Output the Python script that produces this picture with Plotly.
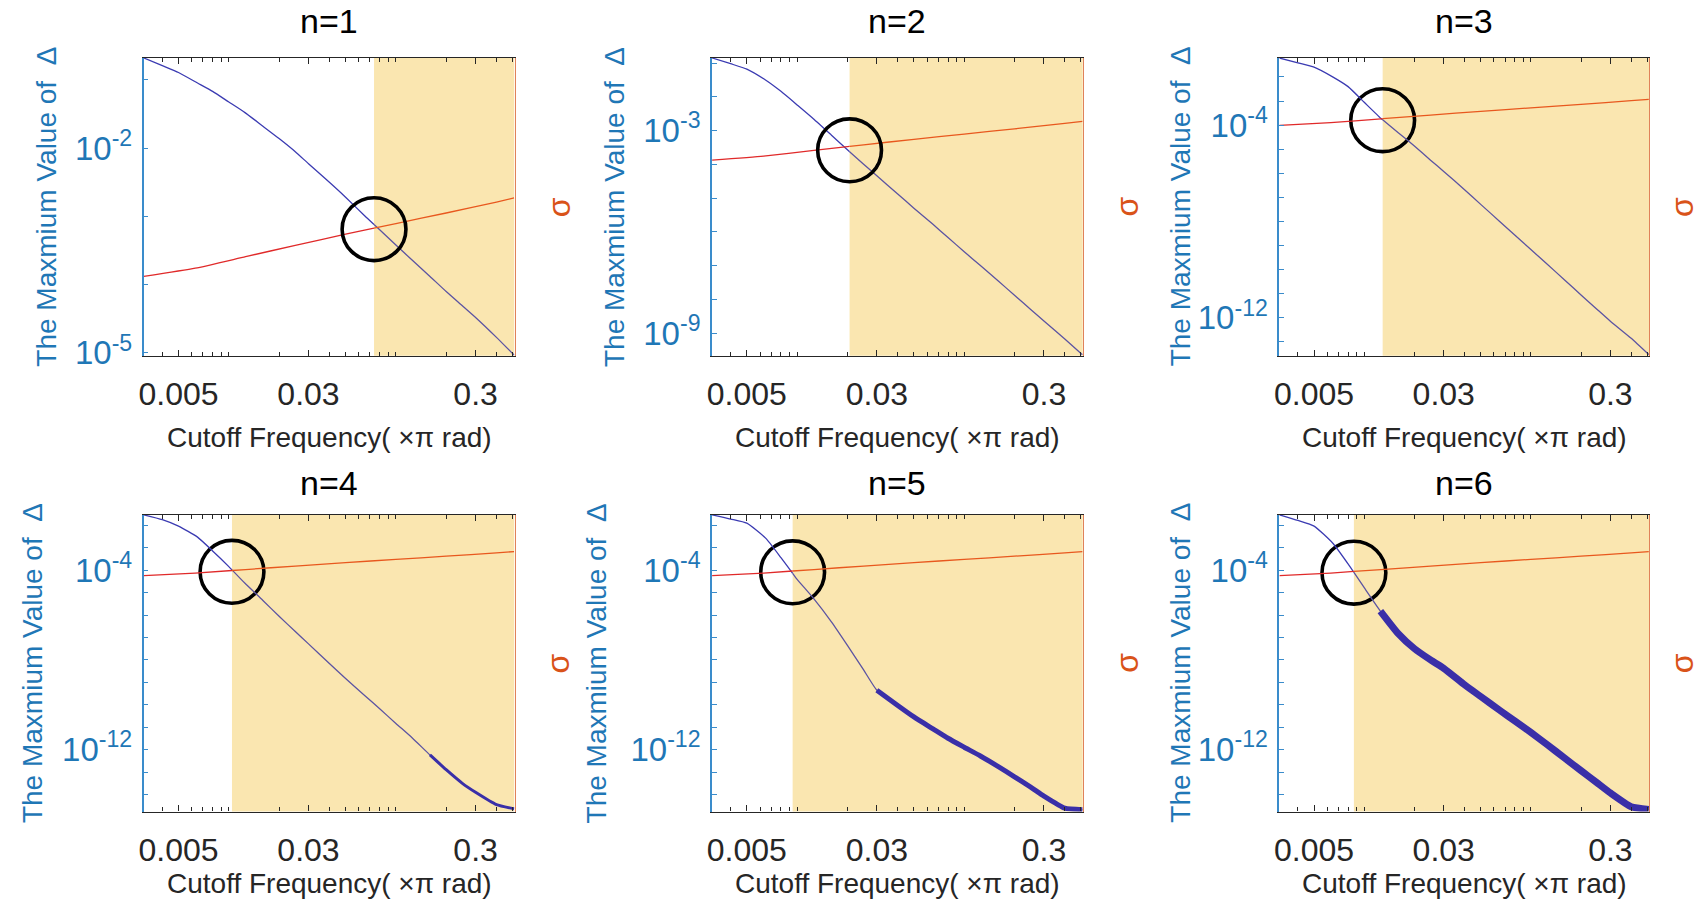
import math
import plotly.graph_objects as go

# ---------------------------------------------------------------------------
# Data: maximum of Delta versus cutoff frequency (x pi rad) for orders n=1..6,
# and the sigma reference curve (right-hand axis) drawn in every panel.
# ---------------------------------------------------------------------------
FREQ = [0.0031, 0.004, 0.005, 0.0065, 0.008, 0.01, 0.0125, 0.016, 0.02, 0.025,
        0.03, 0.04, 0.05, 0.065, 0.08, 0.1, 0.125, 0.16, 0.2, 0.25, 0.3, 0.4, 0.51]

DELTA_N1 = [2.09e-1, 1.61e-1, 1.28e-1, 8.97e-2, 6.76e-2, 4.73e-2, 3.31e-2, 2.09e-2,
            1.38e-2, 8.85e-3, 5.89e-3, 3.16e-3, 1.91e-3, 1.02e-3, 6.35e-4, 3.80e-4,
            2.29e-4, 1.32e-4, 7.94e-5, 4.91e-5, 3.31e-5, 1.69e-5, 9.3e-6]
DELTA_N2 = [1.41e-1, 9.55e-2, 6.61e-2, 3.09e-2, 1.45e-2, 5.75e-3, 2.24e-3, 7.41e-4,
            2.69e-4, 1.00e-4, 4.57e-5, 1.32e-5, 5.01e-6, 1.66e-6, 6.76e-7, 2.57e-7,
            1.00e-7, 3.47e-8, 1.32e-8, 5.01e-9, 2.29e-9, 6.61e-10, 2.29e-10]
DELTA_N3 = [6.12e-2, 3.88e-2, 2.57e-2, 9.91e-3, 3.98e-3, 8.91e-4, 2.00e-4, 4.88e-5,
            1.36e-5, 3.53e-6, 1.19e-6, 2.10e-7, 5.14e-8, 1.01e-8, 2.75e-9, 6.85e-10,
            1.71e-10, 3.67e-11, 8.95e-12, 2.23e-12, 7.24e-13, 1.42e-13, 2.99e-14]
DELTA_N4 = [2.95e-2, 1.80e-2, 9.27e-3, 2.98e-3, 7.23e-4, 1.45e-4, 2.60e-5, 4.49e-6,
            8.82e-7, 1.84e-7, 5.19e-8, 6.94e-9, 1.48e-9, 2.61e-10, 6.62e-11, 1.47e-11,
            3.38e-12, 5.79e-13, 1.27e-13, 3.14e-14, 1.25e-14, 3.53e-15, 2.30e-15]
DELTA_N5 = [2.95e-2, 1.92e-2, 1.25e-2, 2.62e-3, 3.63e-4, 3.92e-5, 5.70e-6, 5.16e-7,
            4.49e-8, 3.57e-9, 4.46e-10, 9.33e-11, 2.87e-11, 8.44e-12, 3.22e-12, 1.28e-12,
            5.22e-13, 1.74e-13, 6.11e-14, 2.14e-14, 8.50e-15, 2.45e-15, 2.11e-15]
DELTA_N6 = [2.95e-2, 1.66e-2, 9.27e-3, 1.56e-3, 1.91e-4, 1.66e-5, 1.51e-6, 1.49e-7,
            3.18e-8, 9.97e-9, 4.23e-9, 7.80e-10, 2.34e-10, 5.70e-11, 1.91e-11, 5.89e-12,
            1.69e-12, 4.11e-13, 1.16e-13, 3.28e-14, 1.17e-14, 2.85e-15, 2.16e-15]

SIGMA_FREQ = [0.0031, 0.0063, 0.0126, 0.025, 0.05, 0.1, 0.2, 0.4, 0.51]
SIGMA = [1.32e-4, 1.74e-4, 2.57e-4, 3.76e-4, 5.50e-4, 7.85e-4, 1.12e-3, 1.62e-3, 1.86e-3]

ORDERS = [1, 2, 3, 4, 5, 6]
DELTAS = [DELTA_N1, DELTA_N2, DELTA_N3, DELTA_N4, DELTA_N5, DELTA_N6]

# crossing of Delta and sigma: start of the shaded band and centre of the marker ring
CROSS_FREQ = [0.074, 0.0206, 0.0129, 0.01045, 0.0094, 0.00867]
CROSS_SIGMA = [6.5e-4, 2.6e-4, 2.24e-4, 2.0e-4, 1.9e-4, 1.82e-4]
# frequency from which the curve is dominated by numerical noise
NOISE_FROM = [None, None, None, 0.16, 0.03, 0.0125]

X_TICKS = [0.005, 0.03, 0.3]
X_TICK_TEXT = ["0.005", "0.03", "0.3"]
Y_LABEL_EXP = [(-2, -5), (-3, -9), (-4, -12), (-4, -12), (-4, -12), (-4, -12)]

# ---------------------------------------------------------------------------
# Layout constants (pixels / log10 ranges)
# ---------------------------------------------------------------------------
W, H = 1706, 913
COLS = [(139, 511), (709, 1081), (1278, 1649)]
ROWS = [(59, 362), (524, 826)]
TITLE_Y = [21, 492]
XTITLE_Y = [445, 899]
YTITLE_OFFSET = [97, 97, 99, 112, 116, 99]
X_LOG_RANGE = [-2.51, -0.29]
Y_LOG_RANGE = [(-5.04, -0.68), (-9.67, -0.85), (-13.57, -1.21),
               (-14.76, -1.53), (-14.76, -1.53), (-14.76, -1.53)]
Y2_LOG_RANGE = [(-5.04, -0.68), (-9.67, -0.85), (-14.02, -0.908),
                (-15.18, -0.97), (-15.18, -0.97), (-15.18, -0.97)]
RING_W, RING_H = 64, 64
NOISE_WIDTH = {4: 3.0, 5: 5.0, 6: 7.0}

FONT = "Liberation Sans, Arial, Helvetica, sans-serif"
BLUE_AX = "#3A8CCB"
BLUE_TXT = "#1F77B6"
ORANGE_AX = "#E0825A"
ORANGE_TXT = "#D95319"
DARK = "#262626"
LINE_BLUE = "#3B3BB2"
LINE_BLUE_SHADED = "#5C54A2"
NOISE_BLUE = "#3A2FA8"
LINE_RED = "#E02A2A"
LINE_RED_SHADED = "#E8581E"
SHADE = "rgb(242,185,35)"

MINOR_X = [m * 10.0 ** e for e in (-3, -2, -1) for m in range(1, 10)]
MINOR_X = [v for v in MINOR_X if 10 ** X_LOG_RANGE[0] <= v <= 10 ** X_LOG_RANGE[1]]


def sfx(k):
    return "" if k == 1 else str(k)


def loglog_at(xs, ys, x):
    """Value of a tabulated curve at x, interpolated on log-log scales."""
    for j in range(len(xs) - 1):
        if xs[j] <= x <= xs[j + 1]:
            t = (math.log10(x) - math.log10(xs[j])) / (math.log10(xs[j + 1]) - math.log10(xs[j]))
            ly = math.log10(ys[j]) + t * (math.log10(ys[j + 1]) - math.log10(ys[j]))
            return 10 ** ly
    return ys[-1]


def split_at(xs, ys, x):
    """Split a curve into the parts left and right of x (both include x)."""
    yx = loglog_at(xs, ys, x)
    left_x = [v for v in xs if v < x] + [x]
    left_y = [ys[j] for j, v in enumerate(xs) if v < x] + [yx]
    right_x = [x] + [v for v in xs if v > x]
    right_y = [yx] + [ys[j] for j, v in enumerate(xs) if v > x]
    return (left_x, left_y), (right_x, right_y)


fig = go.Figure()
layout = dict(
    width=W, height=H, autosize=False,
    margin=dict(l=0, r=0, t=0, b=0, pad=0),
    paper_bgcolor="white", plot_bgcolor="white",
    showlegend=False, font=dict(family=FONT, color=DARK),
)
shapes = []
annotations = []

for i, n in enumerate(ORDERS):
    r, c = divmod(i, 3)
    px0, px1 = COLS[c]
    py0, py1 = ROWS[r]
    xk, yl, yr = i + 1, 2 * i + 1, 2 * i + 2
    xname, ylname, yrname = "x" + sfx(xk), "y" + sfx(yl), "y" + sfx(yr)
    lo, hi = Y_LOG_RANGE[i]
    lo2, hi2 = Y2_LOG_RANGE[i]
    lab = Y_LABEL_EXP[i]
    decades = [10.0 ** e for e in range(0, -17, -1) if lo <= e <= hi]

    layout["xaxis" + sfx(xk)] = dict(
        type="log", range=X_LOG_RANGE, domain=[px0 / W, px1 / W], anchor=ylname,
        showline=True, linecolor=DARK, linewidth=1.2, mirror="ticks",
        ticks="inside", ticklen=6, tickwidth=1.2, tickcolor=DARK,
        tickmode="array", tickvals=X_TICKS, ticktext=X_TICK_TEXT,
        tickfont=dict(size=32, color=DARK, family=FONT), ticklabelstandoff=10,
        showgrid=False, zeroline=False,
        minor=dict(ticks="inside", ticklen=4, tickwidth=1, tickcolor=DARK,
                   tickvals=MINOR_X, showgrid=False),
    )
    layout["yaxis" + sfx(yl)] = dict(
        type="log", range=[lo, hi], domain=[1 - py1 / H, 1 - py0 / H], anchor=xname,
        showline=True, linecolor=BLUE_AX, linewidth=1.6, mirror=False,
        ticks="inside", ticklen=5, tickwidth=1.1, tickcolor=BLUE_AX,
        tickmode="array", tickvals=[10.0 ** e for e in lab],
        ticktext=["10<sup>%d</sup>" % e for e in lab],
        tickfont=dict(size=33, color=BLUE_TXT, family=FONT), ticklabelstandoff=3,
        showgrid=False, zeroline=False,
        minor=dict(ticks="inside", ticklen=5, tickwidth=1.1, tickcolor=BLUE_AX,
                   tickvals=decades, showgrid=False),
    )
    layout["yaxis" + sfx(yr)] = dict(
        type="log", range=[lo2, hi2], overlaying=ylname, side="right", anchor=xname,
        showline=True, linecolor=ORANGE_AX, linewidth=1.4, ticks="",
        showticklabels=False, showgrid=False, zeroline=False,
    )

    cf = CROSS_FREQ[i]
    delta = DELTAS[i]
    (bx0, by0), (bx1, by1) = split_at(FREQ, delta, cf)
    (rx0, ry0), (rx1, ry1) = split_at(SIGMA_FREQ, SIGMA, cf)
    spline = dict(width=1.3, shape="spline", smoothing=0.5)

    # Delta: plain part and the part lying inside the shaded band
    fig.add_trace(go.Scatter(x=bx0, y=by0, mode="lines", xaxis=xname, yaxis=ylname,
                             line=dict(color=LINE_BLUE, **spline), hoverinfo="skip"))
    fig.add_trace(go.Scatter(x=bx1, y=by1, mode="lines", xaxis=xname, yaxis=ylname,
                             line=dict(color=LINE_BLUE_SHADED, **spline), hoverinfo="skip"))
    if NOISE_FROM[i] is not None:
        k0 = next(j for j, f in enumerate(FREQ) if f >= NOISE_FROM[i])
        fig.add_trace(go.Scatter(
            x=FREQ[k0:], y=delta[k0:], mode="lines", xaxis=xname, yaxis=ylname,
            line=dict(color=NOISE_BLUE, width=NOISE_WIDTH[n], shape="spline",
                      smoothing=0.5),
            hoverinfo="skip"))
    # sigma on the right-hand axis
    fig.add_trace(go.Scatter(x=rx0, y=ry0, mode="lines", xaxis=xname, yaxis=yrname,
                             line=dict(color=LINE_RED, **spline), hoverinfo="skip"))
    fig.add_trace(go.Scatter(x=rx1, y=ry1, mode="lines", xaxis=xname, yaxis=yrname,
                             line=dict(color=LINE_RED_SHADED, **spline), hoverinfo="skip"))

    # marker ring around the crossing, sized in screen pixels
    x_ppd = (px1 - px0) / (X_LOG_RANGE[1] - X_LOG_RANGE[0])
    y_ppd = (py1 - py0) / (hi2 - lo2)
    fx = 10 ** (RING_W / 2 / x_ppd)
    fy = 10 ** (RING_H / 2 / y_ppd)
    ring = dict(
        type="circle", xref=xname, yref=yrname,
        x0=cf / fx, x1=cf * fx,
        y0=CROSS_SIGMA[i] / fy, y1=CROSS_SIGMA[i] * fy,
        line=dict(color="black", width=3.6),
    )
    shade = dict(
        type="rect", xref=xname, yref=ylname + " domain",
        x0=cf, x1=10 ** X_LOG_RANGE[1], y0=0, y1=1,
        fillcolor=SHADE, opacity=0.36, line=dict(width=0), layer="below",
    )
    if n <= 2:
        shapes.append(shade)
        shapes.append(dict(ring, layer="above"))
    else:
        shapes.append(dict(ring, layer="below"))
        shapes.append(shade)

    cx = (px0 + px1) / 2 / W
    cy = 1 - (py0 + py1) / 2 / H
    annotations.append(dict(
        text="n=%d" % n, x=cx, y=1 - TITLE_Y[r] / H, xref="paper", yref="paper",
        xanchor="center", yanchor="middle", showarrow=False,
        font=dict(size=34, color="black", family=FONT)))
    annotations.append(dict(
        text="Cutoff Frequency( \u00d7\u03c0 rad)", x=cx, y=1 - XTITLE_Y[r] / H,
        xref="paper", yref="paper", xanchor="center", yanchor="middle",
        showarrow=False, font=dict(size=28, color=DARK, family=FONT)))
    annotations.append(dict(
        text="The Maxmium Value of\u00a0\u00a0\u0394", x=(px0 - YTITLE_OFFSET[i]) / W,
        y=cy, xref="paper", yref="paper",
        xanchor="center", yanchor="middle", textangle=-90, showarrow=False,
        font=dict(size=28, color=BLUE_TXT, family=FONT)))
    annotations.append(dict(
        text="\u03c3", x=min(px1 + 44, W - 24) / W, y=cy,
        xref="paper", yref="paper", xanchor="center", yanchor="middle",
        textangle=-90, showarrow=False,
        font=dict(size=32, color=ORANGE_TXT, family=FONT)))

layout["shapes"] = shapes
layout["annotations"] = annotations
fig.update_layout(**layout)
fig.write_html("out.html")
